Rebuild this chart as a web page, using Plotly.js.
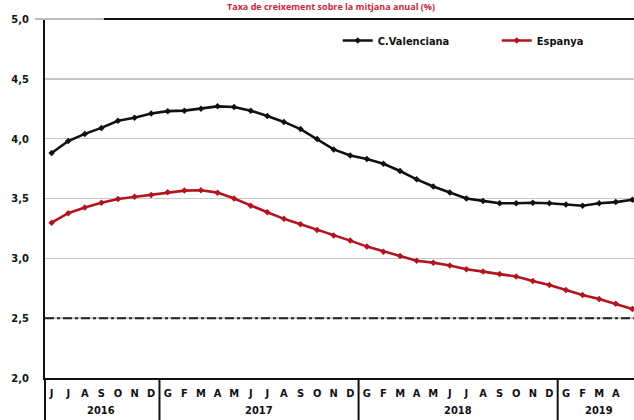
<!DOCTYPE html>
<html>
<head>
<meta charset="utf-8">
<script src="https://cdn.plot.ly/plotly-3.0.1.min.js"></script>
<style>html,body{margin:0;padding:0;background:#fff;}#chart{width:634px;height:420px;}</style>
</head>
<body>
<div id="chart"></div>
<script>
// Month letters (Jun 2016 .. May 2019)
const monthLabels = ["J","J","A","S","O","N","D",
  "G","F","M","A","M","J","J","A","S","O","N","D",
  "G","F","M","A","M","J","J","A","S","O","N","D",
  "G","F","M","A","M"];
const monthYears = [2016,2016,2016,2016,2016,2016,2016,
  2017,2017,2017,2017,2017,2017,2017,2017,2017,2017,2017,2017,
  2018,2018,2018,2018,2018,2018,2018,2018,2018,2018,2018,2018,
  2019,2019,2019,2019,2019];
const yearLabels = ["2016","2017","2018","2019"];

const valenciana = [3.88,3.98,4.04,4.09,4.15,4.175,4.21,
  4.23,4.234,4.25,4.27,4.265,4.234,4.19,4.14,4.08,3.997,3.91,3.86,
  3.83,3.79,3.73,3.66,3.60,3.55,3.50,3.48,3.46,3.46,3.465,3.46,
  3.45,3.44,3.46,3.47,3.49];
const espanya = [3.298,3.377,3.424,3.465,3.496,3.515,3.53,
  3.552,3.566,3.569,3.549,3.50,3.44,3.385,3.33,3.285,3.237,3.19,3.148,
  3.098,3.056,3.02,2.98,2.964,2.94,2.909,2.889,2.87,2.848,2.81,2.778,
  2.736,2.694,2.66,2.62,2.577];
const refLevel = 2.5;
const seriesNames = ["C.Valenciana","Espanya"];
const chartTitle = 'Taxa de creixement sobre la mitjana anual (%)';

const idx = monthLabels.map((_, i) => i);
const xmin = -0.4, xmax = 35.1;
const toPaper = v => (v - xmin) / (xmax - xmin);
const boldFont = {family: 'DejaVu Sans Condensed, Open Sans', size: 11, color: '#111', weight: 'bold'};

const traces = [
  {x: idx, y: valenciana, name: seriesNames[0], type: 'scatter', mode: 'lines+markers', legend: 'legend',
   line: {color: '#111111', width: 2.6}, marker: {symbol: 'diamond', size: 5, color: '#111111'}},
  {x: idx, y: espanya, name: seriesNames[1], type: 'scatter', mode: 'lines+markers', legend: 'legend2',
   line: {color: '#b4141e', width: 2.6}, marker: {symbol: 'diamond', size: 5, color: '#b4141e'}}
];

// separators between years
const shapes = [];
const seps = [xmin];
for (let i = 1; i < monthYears.length; i++) if (monthYears[i] !== monthYears[i-1]) seps.push(i - 0.5);
seps.forEach(s => shapes.push({type: 'line', xref: 'paper', yref: 'paper',
  x0: toPaper(s), x1: toPaper(s), y0: -0.2, y1: 0, line: {color: '#111', width: 2}}));
// reference dash-dot line
shapes.push({type: 'line', xref: 'paper', yref: 'y', x0: 0, x1: 1, y0: refLevel, y1: refLevel,
  line: {color: '#222', width: 2, dash: 'dashdot'}});
// top border
shapes.push({type: 'line', xref: 'paper', yref: 'paper', x0: -0.017, x1: 0.1, y0: 1, y1: 1, line: {color: '#bbbbbb', width: 2}});
shapes.push({type: 'line', xref: 'paper', yref: 'paper', x0: 0.1, x1: 1, y0: 1, y1: 1, line: {color: '#111', width: 2}});

const annotations = yearLabels.map(y => {
  const ids = idx.filter(i => String(monthYears[i]) === y);
  const c = ids.reduce((a, b) => a + b, 0) / ids.length;
  return {text: y, x: c, xref: 'x', y: -0.09, yref: 'paper', showarrow: false,
    yanchor: 'middle', font: boldFont};
});
// title at the very top edge
annotations.push({text: chartTitle, x: 0.486, xref: 'paper', xanchor: 'center',
  y: 1.036, yref: 'paper', yanchor: 'middle', showarrow: false,
  font: {family: 'Open Sans', size: 9, color: '#c8283a', weight: 'bold'}});

const legendBase = {orientation: 'h', yanchor: 'middle', xanchor: 'left', y: 0.94,
  bgcolor: 'rgba(0,0,0,0)', font: boldFont, itemwidth: 30};

const layout = {
  width: 634, height: 420,
  margin: {l: 45, r: 0, t: 19, b: 42, pad: 0},
  paper_bgcolor: '#fff', plot_bgcolor: '#fff',
  separators: ',.',
  showlegend: true,
  legend: Object.assign({}, legendBase, {x: 0.497}),
  legend2: Object.assign({}, legendBase, {x: 0.767}),
  xaxis: {range: [xmin, xmax], tickmode: 'array', tickvals: idx, ticktext: monthLabels,
    showgrid: false, zeroline: false, showline: true, linecolor: '#111', linewidth: 2,
    ticks: '', ticklabelstandoff: 4, tickfont: boldFont},
  yaxis: {range: [2.0, 5.0], tickvals: [2.0,2.5,3.0,3.5,4.0,4.5,5.0], tickformat: '.1f',
    showgrid: true, gridcolor: '#c8c8c8', gridwidth: 1.5, zeroline: false,
    showline: true, linecolor: '#111', linewidth: 2, ticks: '', ticklabelstandoff: 12,
    tickfont: boldFont},
  shapes: shapes,
  annotations: annotations
};

Plotly.newPlot('chart', traces, layout, {displayModeBar: false, staticPlot: true});
</script>
</body>
</html>
